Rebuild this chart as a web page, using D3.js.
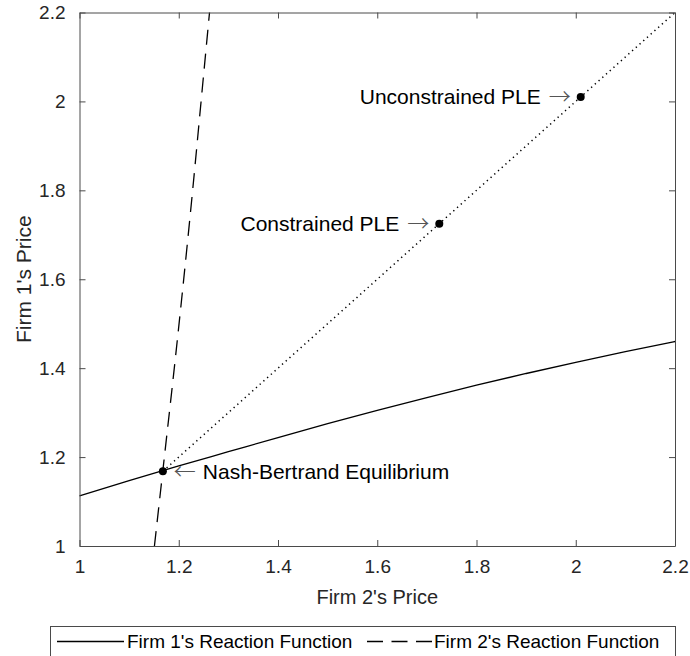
<!DOCTYPE html>
<html>
<head>
<meta charset="utf-8">
<script src="https://cdn.jsdelivr.net/npm/d3@7"></script>
<style>
  html, body { margin: 0; padding: 0; background: #fff; }
  svg { display: block; font-family: "Liberation Sans", Arial, sans-serif; }
</style>
</head>
<body>
<svg id="chart" width="690" height="656"></svg>
<script>
// ---- data ----
const tickValues = [1, 1.2, 1.4, 1.6, 1.8, 2, 2.2];
const tickLabels = ["1", "1.2", "1.4", "1.6", "1.8", "2", "2.2"];

// Firm 1's reaction function: p1 as a function of p2
const firm1P2 = [1.0, 1.1, 1.2, 1.3, 1.4, 1.5, 1.6, 1.7, 1.8, 1.9, 2.0, 2.1, 2.2];
const firm1P1 = [1.113, 1.147, 1.180, 1.212, 1.244, 1.275, 1.305, 1.334, 1.362, 1.388, 1.413, 1.437, 1.460];

// Firm 2's reaction function: p2 as a function of p1
const firm2P1 = [1.0, 1.2, 1.4, 1.6, 1.8, 2.0, 2.2];
const firm2P2 = [1.151, 1.171, 1.191, 1.210, 1.228, 1.245, 1.262];

// 45-degree line (p1 = p2), from the Nash point upward
const diagonalP = [1.168, 2.2];

// Marked equilibria
const pointNames = ["Nash-Bertrand Equilibrium", "Constrained PLE", "Unconstrained PLE"];
const pointValues = [1.168, 1.725, 2.01];
const pointSide = ["right", "left", "left"];

const xTitle = "Firm 2's Price";
const yTitle = "Firm 1's Price";
const legendLabels = ["Firm 1's Reaction Function", "Firm 2's Reaction Function"];

// ---- layout ----
const svg = d3.select("#chart");
const L = 79.5, R = 675, T = 12.5, B = 546;
const x = d3.scaleLinear().domain([1, 2.2]).range([L, R]);
const y = d3.scaleLinear().domain([1, 2.2]).range([B, T]);
const axisColor = "#4a4a4a";
const tickLen = 6;

const plot = svg.append("g");

// curves
const firm1 = firm1P2.map((v, i) => [v, firm1P1[i]]);
const firm2 = firm2P1.map((v, i) => [firm2P2[i], v]);

plot.append("path")
  .datum(firm1)
  .attr("d", d3.line().x(d => x(d[0])).y(d => y(d[1])).curve(d3.curveMonotoneX))
  .attr("fill", "none").attr("stroke", "#000").attr("stroke-width", 1.3);

plot.append("path")
  .datum(firm2)
  .attr("d", d3.line().x(d => x(d[0])).y(d => y(d[1])).curve(d3.curveMonotoneY))
  .attr("fill", "none").attr("stroke", "#000").attr("stroke-width", 1.3)
  .attr("stroke-dasharray", "15,9");

plot.append("path")
  .datum(diagonalP.map(v => [v, v]))
  .attr("d", d3.line().x(d => x(d[0])).y(d => y(d[1])))
  .attr("fill", "none").attr("stroke", "#000").attr("stroke-width", 1.5)
  .attr("stroke-dasharray", "1.3,3.7");

// axes (MATLAB-style box with inward ticks)
const axB = d3.axisBottom(x).tickValues(tickValues).tickFormat((d, i) => tickLabels[i]).tickSizeInner(-tickLen).tickSizeOuter(0).tickPadding(14);
const axT = d3.axisTop(x).tickValues(tickValues).tickFormat("").tickSizeInner(-tickLen).tickSizeOuter(0);
const axL = d3.axisLeft(y).tickValues(tickValues).tickFormat((d, i) => tickLabels[i]).tickSizeInner(-tickLen).tickSizeOuter(0).tickPadding(14);
const axR = d3.axisRight(y).tickValues(tickValues).tickFormat("").tickSizeInner(-tickLen).tickSizeOuter(0);

function style(g) {
  g.select(".domain").attr("stroke", axisColor).attr("stroke-width", 1);
  g.selectAll(".tick line").attr("stroke", axisColor).attr("stroke-width", 1);
  g.selectAll(".tick text").attr("fill", "#262626").attr("font-size", 19)
    .attr("font-family", "'Liberation Sans', Arial, sans-serif");
}
svg.append("g").attr("transform", `translate(0,${B})`).call(axB).call(style);
svg.append("g").attr("transform", `translate(0,${T})`).call(axT).call(style);
svg.append("g").attr("transform", `translate(${L},0)`).call(axL).call(style);
svg.append("g").attr("transform", `translate(${R},0)`).call(axR).call(style);

// axis titles
svg.append("text").attr("x", (L + R) / 2).attr("y", 604)
  .attr("text-anchor", "middle").attr("font-size", 20).attr("fill", "#262626").text(xTitle);
svg.append("text").attr("transform", `translate(31,${(T + B) / 2}) rotate(-90)`)
  .attr("text-anchor", "middle").attr("font-size", 21).attr("fill", "#262626").text(yTitle);

// points + annotations
const arrowFont = "'Noto Sans CJK SC', sans-serif";
pointValues.forEach((v, i) => {
  const cx = x(v), cy = y(v);
  plot.append("circle").attr("cx", cx).attr("cy", cy).attr("r", 4).attr("fill", "#000");
  const arrow = svg.append("text").attr("y", cy).attr("dy", "0.33em")
    .attr("font-family", arrowFont).attr("font-size", 22).attr("font-weight", 300).attr("fill", "#555");
  const label = svg.append("text").attr("y", cy).attr("dy", "0.35em")
    .attr("font-size", 21).attr("fill", "#000").text(pointNames[i]);
  if (pointSide[i] === "right") {
    arrow.attr("x", cx + 11).attr("text-anchor", "start").text("\u2190");
    label.attr("x", cx + 40).attr("text-anchor", "start");
  } else {
    arrow.attr("x", cx - 10).attr("text-anchor", "end").text("\u2192");
    label.attr("x", cx - 40).attr("text-anchor", "end");
  }
});

// legend
const lg = svg.append("g");
lg.append("rect").attr("x", 50.5).attr("y", 626.5).attr("width", 625).attr("height", 30)
  .attr("fill", "#fff").attr("stroke", axisColor).attr("stroke-width", 1);
const ly = 641.5;
lg.append("line").attr("x1", 57).attr("x2", 124).attr("y1", ly).attr("y2", ly)
  .attr("stroke", "#000").attr("stroke-width", 1.3);
lg.append("text").attr("x", 127).attr("y", ly).attr("dy", "0.35em").attr("font-size", 19).attr("fill", "#000").text(legendLabels[0]);
lg.append("line").attr("x1", 367).attr("x2", 432).attr("y1", ly).attr("y2", ly)
  .attr("stroke", "#000").attr("stroke-width", 1.3).attr("stroke-dasharray", "16,8.5");
lg.append("text").attr("x", 434).attr("y", ly).attr("dy", "0.35em").attr("font-size", 19).attr("fill", "#000").text(legendLabels[1]);
</script>
</body>
</html>
